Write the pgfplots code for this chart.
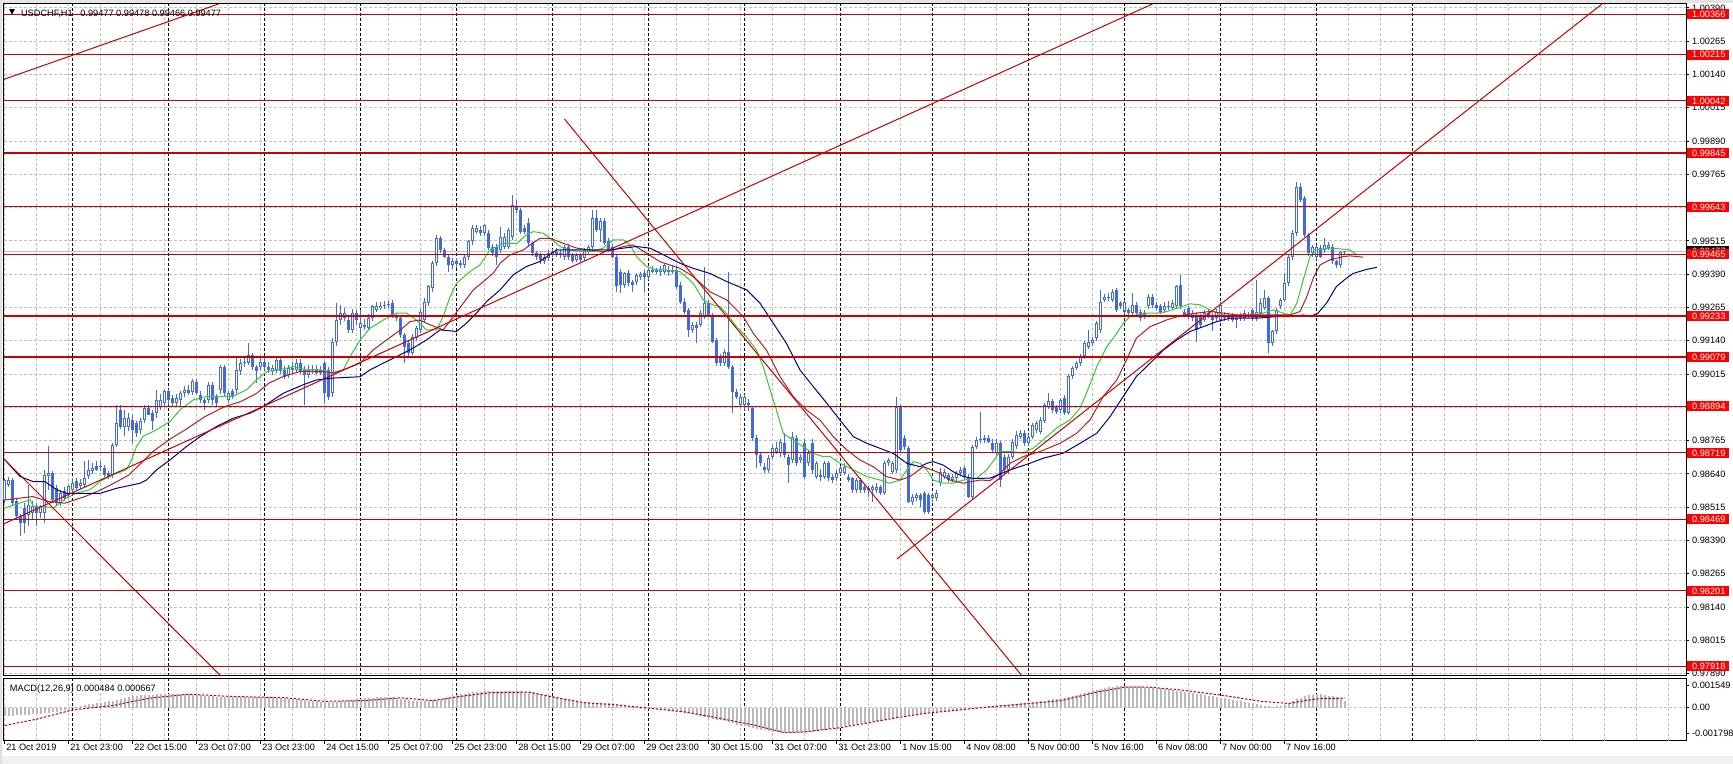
\documentclass[border=0pt]{standalone}
\usepackage{pgfplots}
\pgfplotsset{compat=1.18}
\usepackage{pgfplotstable}
\usepackage{fontspec}
\setmainfont{Liberation Sans}
\newfontfamily\symfont{DejaVu Sans}
\newcommand\lbl{\fontsize{4.6pt}{5pt}\selectfont}
\definecolor{cand}{RGB}{65,105,225}
\definecolor{magreen}{RGB}{50,205,50}
\definecolor{mared}{RGB}{178,34,34}
\definecolor{mablue}{RGB}{0,0,139}
\definecolor{lvl}{RGB}{200,0,0}
\definecolor{lvlbox}{RGB}{255,0,0}
\definecolor{trend}{RGB}{200,0,0}
\definecolor{gridc}{RGB}{192,192,192}
\definecolor{histc}{RGB}{185,185,185}
\definecolor{sigc}{RGB}{190,0,0}
\definecolor{bidc}{RGB}{192,192,192}

\pgfplotstableread{
o h l c
0.98543 0.98625 0.98531 0.98618
0.98600 0.98630 0.98590 0.98618
0.98618 0.98625 0.98525 0.98531
0.98537 0.98545 0.98468 0.98481
0.98481 0.98490 0.98406 0.98456
0.98512 0.98531 0.98418 0.98456
0.98487 0.98600 0.98443 0.98525
0.98493 0.98540 0.98470 0.98518
0.98518 0.98530 0.98443 0.98493
0.98493 0.98525 0.98475 0.98518
0.98493 0.98656 0.98456 0.98637
0.98631 0.98743 0.98581 0.98643
0.98643 0.98650 0.98530 0.98543
0.98587 0.98600 0.98520 0.98531
0.98531 0.98580 0.98520 0.98568
0.98575 0.98590 0.98540 0.98550
0.98562 0.98600 0.98550 0.98593
0.98581 0.98625 0.98570 0.98606
0.98612 0.98625 0.98580 0.98587
0.98593 0.98620 0.98585 0.98606
0.98600 0.98687 0.98590 0.98625
0.98631 0.98693 0.98620 0.98656
0.98650 0.98680 0.98640 0.98662
0.98668 0.98690 0.98650 0.98656
0.98668 0.98690 0.98650 0.98665
0.98662 0.98675 0.98630 0.98637
0.98643 0.98650 0.98620 0.98631
0.98637 0.98756 0.98625 0.98750
0.98750 0.98900 0.98740 0.98831
0.98880 0.98900 0.98810 0.98818
0.98818 0.98880 0.98781 0.98850
0.98818 0.98870 0.98800 0.98850
0.98843 0.98860 0.98756 0.98806
0.98831 0.98840 0.98780 0.98793
0.98806 0.98850 0.98790 0.98837
0.98843 0.98900 0.98830 0.98887
0.98887 0.98900 0.98860 0.98862
0.98868 0.98880 0.98806 0.98837
0.98868 0.98955 0.98850 0.98918
0.98893 0.98940 0.98880 0.98918
0.98906 0.98955 0.98890 0.98950
0.98950 0.98960 0.98900 0.98918
0.98925 0.98935 0.98890 0.98906
0.98906 0.98940 0.98895 0.98925
0.98918 0.98950 0.98890 0.98943
0.98943 0.98970 0.98930 0.98956
0.98956 0.98975 0.98935 0.98943
0.98946 0.98995 0.98935 0.98990
0.98985 0.98995 0.98940 0.98943
0.98937 0.98950 0.98905 0.98918
0.98918 0.98925 0.98880 0.98906
0.98918 0.98985 0.98905 0.98975
0.98975 0.98985 0.98900 0.98918
0.98930 0.98940 0.98890 0.98905
0.98955 0.99050 0.98940 0.99043
0.99043 0.99050 0.98930 0.98943
0.98918 0.98950 0.98905 0.98943
0.98950 0.98960 0.98920 0.98930
0.98955 0.99080 0.98940 0.99030
0.99025 0.99070 0.99010 0.99056
0.99056 0.99080 0.99040 0.99060
0.99056 0.99130 0.99050 0.99087
0.99087 0.99095 0.99030 0.99043
0.99043 0.99050 0.98980 0.99025
0.99043 0.99075 0.99030 0.99062
0.99062 0.99080 0.99030 0.99043
0.99043 0.99060 0.99020 0.99030
0.99025 0.99050 0.99010 0.99037
0.99030 0.99080 0.99020 0.99068
0.99068 0.99080 0.99015 0.99025
0.99030 0.99045 0.98995 0.99005
0.99012 0.99050 0.99000 0.99037
0.99037 0.99060 0.99020 0.99030
0.99030 0.99070 0.99020 0.99056
0.99056 0.99070 0.99015 0.99025
0.99030 0.99045 0.98900 0.99012
0.99012 0.99050 0.99000 0.99030
0.99030 0.99050 0.99015 0.99035
0.99035 0.99050 0.99010 0.99018
0.99018 0.99045 0.99010 0.99030
0.99056 0.99065 0.98905 0.98943
0.99030 0.99040 0.98918 0.98930
0.98943 0.99150 0.98930 0.99137
0.99137 0.99281 0.99120 0.99218
0.99218 0.99275 0.99200 0.99244
0.99225 0.99262 0.99215 0.99244
0.99218 0.99230 0.99170 0.99181
0.99181 0.99260 0.99170 0.99244
0.99244 0.99255 0.99200 0.99218
0.99187 0.99256 0.99143 0.99206
0.99200 0.99220 0.99180 0.99193
0.99187 0.99240 0.99180 0.99225
0.99225 0.99275 0.99215 0.99269
0.99256 0.99285 0.99250 0.99269
0.99262 0.99285 0.99255 0.99272
0.99269 0.99290 0.99260 0.99275
0.99275 0.99290 0.99265 0.99278
0.99281 0.99294 0.99225 0.99231
0.99231 0.99245 0.99215 0.99225
0.99225 0.99235 0.99150 0.99162
0.99162 0.99170 0.99056 0.99118
0.99131 0.99140 0.99080 0.99093
0.99093 0.99165 0.99085 0.99156
0.99150 0.99195 0.99140 0.99187
0.99181 0.99260 0.99170 0.99250
0.99218 0.99300 0.99210 0.99287
0.99281 0.99350 0.99270 0.99344
0.99338 0.99440 0.99325 0.99431
0.99431 0.99538 0.99420 0.99525
0.99525 0.99535 0.99470 0.99481
0.99481 0.99490 0.99450 0.99456
0.99456 0.99465 0.99400 0.99425
0.99425 0.99450 0.99410 0.99438
0.99438 0.99450 0.99415 0.99428
0.99431 0.99445 0.99415 0.99425
0.99425 0.99465 0.99415 0.99456
0.99456 0.99520 0.99445 0.99513
0.99513 0.99575 0.99500 0.99563
0.99550 0.99575 0.99540 0.99563
0.99557 0.99570 0.99535 0.99544
0.99544 0.99580 0.99535 0.99575
0.99544 0.99555 0.99480 0.99488
0.99494 0.99505 0.99460 0.99469
0.99494 0.99505 0.99425 0.99456
0.99481 0.99569 0.99470 0.99531
0.99494 0.99545 0.99485 0.99531
0.99494 0.99565 0.99485 0.99557
0.99531 0.99688 0.99520 0.99650
0.99644 0.99669 0.99620 0.99632
0.99632 0.99640 0.99540 0.99550
0.99563 0.99575 0.99540 0.99550
0.99582 0.99600 0.99495 0.99506
0.99506 0.99515 0.99460 0.99469
0.99469 0.99478 0.99445 0.99456
0.99462 0.99470 0.99430 0.99444
0.99438 0.99465 0.99430 0.99456
0.99450 0.99480 0.99440 0.99469
0.99462 0.99485 0.99455 0.99475
0.99475 0.99490 0.99455 0.99462
0.99462 0.99480 0.99450 0.99470
0.99456 0.99500 0.99445 0.99494
0.99494 0.99505 0.99445 0.99456
0.99462 0.99470 0.99431 0.99438
0.99444 0.99470 0.99435 0.99462
0.99462 0.99470 0.99435 0.99444
0.99450 0.99490 0.99440 0.99481
0.99475 0.99500 0.99465 0.99494
0.99494 0.99632 0.99485 0.99600
0.99600 0.99632 0.99550 0.99557
0.99557 0.99600 0.99510 0.99590
0.99590 0.99600 0.99500 0.99506
0.99513 0.99525 0.99475 0.99481
0.99494 0.99505 0.99450 0.99456
0.99456 0.99465 0.99325 0.99344
0.99400 0.99410 0.99319 0.99350
0.99350 0.99400 0.99340 0.99394
0.99394 0.99405 0.99345 0.99356
0.99362 0.99370 0.99325 0.99350
0.99362 0.99395 0.99350 0.99387
0.99381 0.99400 0.99370 0.99390
0.99394 0.99405 0.99325 0.99381
0.99381 0.99415 0.99370 0.99406
0.99406 0.99420 0.99395 0.99400
0.99400 0.99415 0.99390 0.99405
0.99400 0.99420 0.99385 0.99410
0.99400 0.99430 0.99390 0.99425
0.99400 0.99420 0.99385 0.99406
0.99406 0.99425 0.99390 0.99400
0.99406 0.99420 0.99335 0.99343
0.99349 0.99360 0.99280 0.99287
0.99287 0.99300 0.99240 0.99249
0.99256 0.99265 0.99155 0.99181
0.99181 0.99210 0.99170 0.99199
0.99199 0.99210 0.99130 0.99187
0.99199 0.99255 0.99190 0.99243
0.99231 0.99418 0.99220 0.99281
0.99281 0.99295 0.99230 0.99237
0.99237 0.99245 0.99130 0.99137
0.99143 0.99150 0.99045 0.99055
0.99080 0.99090 0.99045 0.99055
0.99055 0.99110 0.99045 0.99099
0.99099 0.99400 0.99035 0.99043
0.99043 0.99050 0.98868 0.98949
0.98949 0.98960 0.98920 0.98930
0.98899 0.98940 0.98890 0.98930
0.98899 0.98940 0.98880 0.98930
0.98905 0.98920 0.98875 0.98900
0.98886 0.98895 0.98765 0.98774
0.98774 0.98785 0.98661 0.98711
0.98711 0.98720 0.98670 0.98680
0.98667 0.98680 0.98645 0.98655
0.98655 0.98710 0.98645 0.98699
0.98705 0.98750 0.98695 0.98736
0.98724 0.98761 0.98715 0.98736
0.98717 0.98770 0.98705 0.98761
0.98755 0.98792 0.98700 0.98711
0.98705 0.98715 0.98605 0.98673
0.98692 0.98799 0.98680 0.98780
0.98774 0.98785 0.98670 0.98680
0.98692 0.98715 0.98680 0.98705
0.98755 0.98770 0.98620 0.98630
0.98680 0.98730 0.98670 0.98717
0.98755 0.98770 0.98640 0.98655
0.98630 0.98690 0.98620 0.98680
0.98635 0.98660 0.98615 0.98630
0.98630 0.98690 0.98620 0.98680
0.98680 0.98690 0.98615 0.98623
0.98630 0.98640 0.98605 0.98617
0.98623 0.98655 0.98615 0.98642
0.98642 0.98670 0.98635 0.98661
0.98642 0.98680 0.98635 0.98667
0.98630 0.98640 0.98610 0.98617
0.98623 0.98630 0.98570 0.98580
0.98580 0.98625 0.98570 0.98617
0.98617 0.98625 0.98570 0.98580
0.98592 0.98600 0.98570 0.98580
0.98586 0.98595 0.98555 0.98580
0.98580 0.98600 0.98536 0.98592
0.98580 0.98605 0.98570 0.98592
0.98592 0.98600 0.98560 0.98567
0.98567 0.98690 0.98560 0.98680
0.98680 0.98700 0.98670 0.98692
0.98648 0.98690 0.98640 0.98680
0.98655 0.98930 0.98645 0.98893
0.98893 0.98899 0.98720 0.98730
0.98774 0.98785 0.98730 0.98742
0.98736 0.98745 0.98530 0.98536
0.98536 0.98565 0.98525 0.98555
0.98548 0.98570 0.98540 0.98561
0.98561 0.98570 0.98517 0.98542
0.98567 0.98575 0.98490 0.98498
0.98561 0.98570 0.98490 0.98498
0.98548 0.98570 0.98535 0.98561
0.98548 0.98580 0.98540 0.98567
0.98605 0.98661 0.98595 0.98648
0.98630 0.98660 0.98620 0.98648
0.98636 0.98645 0.98610 0.98617
0.98617 0.98640 0.98610 0.98630
0.98623 0.98650 0.98615 0.98642
0.98642 0.98665 0.98635 0.98655
0.98661 0.98670 0.98620 0.98630
0.98630 0.98640 0.98550 0.98555
0.98555 0.98750 0.98545 0.98742
0.98742 0.98780 0.98735 0.98767
0.98767 0.98874 0.98755 0.98770
0.98767 0.98785 0.98755 0.98774
0.98774 0.98785 0.98755 0.98761
0.98755 0.98770 0.98720 0.98730
0.98718 0.98770 0.98710 0.98755
0.98755 0.98765 0.98592 0.98618
0.98705 0.98715 0.98640 0.98655
0.98655 0.98715 0.98640 0.98705
0.98705 0.98770 0.98695 0.98761
0.98743 0.98800 0.98735 0.98787
0.98780 0.98805 0.98770 0.98793
0.98793 0.98805 0.98745 0.98755
0.98755 0.98790 0.98745 0.98780
0.98780 0.98830 0.98770 0.98824
0.98805 0.98840 0.98795 0.98830
0.98799 0.98855 0.98790 0.98843
0.98837 0.98905 0.98830 0.98899
0.98893 0.98943 0.98885 0.98912
0.98912 0.98920 0.98870 0.98880
0.98893 0.98900 0.98865 0.98874
0.98880 0.98925 0.98870 0.98918
0.98924 0.98935 0.98860 0.98868
0.98868 0.99015 0.98860 0.99006
0.99006 0.99045 0.98995 0.99037
0.99037 0.99065 0.99030 0.99056
0.99056 0.99090 0.99045 0.99081
0.99081 0.99140 0.99070 0.99131
0.99118 0.99181 0.99110 0.99137
0.99131 0.99155 0.99120 0.99143
0.99150 0.99215 0.99140 0.99206
0.99181 0.99331 0.99170 0.99287
0.99294 0.99315 0.99285 0.99306
0.99306 0.99320 0.99290 0.99300
0.99294 0.99335 0.99285 0.99325
0.99331 0.99340 0.99250 0.99256
0.99281 0.99290 0.99260 0.99269
0.99250 0.99295 0.99240 0.99287
0.99256 0.99265 0.99235 0.99244
0.99244 0.99319 0.99235 0.99275
0.99275 0.99285 0.99235 0.99244
0.99250 0.99260 0.99215 0.99225
0.99244 0.99255 0.99220 0.99231
0.99269 0.99315 0.99260 0.99306
0.99306 0.99315 0.99265 0.99275
0.99275 0.99285 0.99255 0.99262
0.99269 0.99280 0.99240 0.99250
0.99256 0.99285 0.99245 0.99269
0.99269 0.99290 0.99255 0.99272
0.99262 0.99295 0.99255 0.99281
0.99269 0.99350 0.99260 0.99344
0.99350 0.99387 0.99260 0.99269
0.99250 0.99260 0.99230 0.99237
0.99262 0.99270 0.99220 0.99231
0.99225 0.99255 0.99215 0.99244
0.99237 0.99250 0.99137 0.99181
0.99231 0.99240 0.99190 0.99200
0.99218 0.99255 0.99210 0.99244
0.99244 0.99260 0.99225 0.99231
0.99237 0.99245 0.99175 0.99218
0.99225 0.99260 0.99215 0.99250
0.99218 0.99285 0.99210 0.99275
0.99231 0.99250 0.99215 0.99225
0.99225 0.99245 0.99215 0.99235
0.99231 0.99245 0.99210 0.99218
0.99225 0.99240 0.99187 0.99218
0.99225 0.99245 0.99215 0.99231
0.99225 0.99255 0.99215 0.99244
0.99237 0.99250 0.99225 0.99231
0.99256 0.99265 0.99215 0.99225
0.99225 0.99369 0.99215 0.99250
0.99244 0.99300 0.99235 0.99281
0.99262 0.99331 0.99255 0.99300
0.99300 0.99310 0.99093 0.99131
0.99131 0.99180 0.99120 0.99175
0.99175 0.99265 0.99165 0.99256
0.99269 0.99300 0.99260 0.99294
0.99294 0.99394 0.99285 0.99356
0.99356 0.99465 0.99345 0.99456
0.99456 0.99557 0.99445 0.99544
0.99544 0.99738 0.99535 0.99719
0.99719 0.99732 0.99660 0.99669
0.99675 0.99685 0.99530 0.99538
0.99538 0.99545 0.99460 0.99469
0.99469 0.99500 0.99455 0.99494
0.99456 0.99500 0.99445 0.99494
0.99488 0.99500 0.99450 0.99456
0.99481 0.99525 0.99470 0.99500
0.99488 0.99510 0.99480 0.99500
0.99494 0.99505 0.99430 0.99438
0.99438 0.99445 0.99415 0.99425
0.99425 0.99478 0.99415 0.99475
0.99477 0.99478 0.99466 0.99477
}\ohlc
\pgfplotstablecreatecol[create col/expr={\pgfplotstablerow}]{i}{\ohlc}

\pgfplotstableread{
m
-0.00060
-0.00058
-0.00055
-0.00053
-0.00050
-0.00050
-0.00048
-0.00045
-0.00043
-0.00042
-0.00040
-0.00035
-0.00032
-0.00028
-0.00022
-0.00015
-0.00008
0.00002
0.00008
0.00014
0.00020
0.00024
0.00028
0.00031
0.00035
0.00038
0.00044
0.00050
0.00056
0.00062
0.00068
0.00074
0.00080
0.00083
0.00086
0.00088
0.00090
0.00091
0.00093
0.00094
0.00095
0.00096
0.00095
0.00095
0.00095
0.00094
0.00093
0.00091
0.00090
0.00088
0.00085
0.00083
0.00080
0.00078
0.00077
0.00076
0.00075
0.00075
0.00076
0.00075
0.00075
0.00077
0.00078
0.00078
0.00078
0.00076
0.00074
0.00072
0.00070
0.00068
0.00065
0.00062
0.00060
0.00058
0.00055
0.00052
0.00050
0.00047
0.00044
0.00042
0.00040
0.00039
0.00040
0.00042
0.00045
0.00049
0.00053
0.00057
0.00060
0.00063
0.00066
0.00068
0.00070
0.00072
0.00074
0.00075
0.00075
0.00073
0.00069
0.00064
0.00060
0.00055
0.00050
0.00047
0.00045
0.00046
0.00048
0.00051
0.00055
0.00063
0.00071
0.00078
0.00085
0.00090
0.00095
0.00100
0.00105
0.00108
0.00111
0.00113
0.00115
0.00116
0.00118
0.00119
0.00120
0.00120
0.00119
0.00119
0.00118
0.00116
0.00114
0.00112
0.00110
0.00104
0.00097
0.00091
0.00085
0.00079
0.00073
0.00066
0.00060
0.00055
0.00050
0.00045
0.00040
0.00039
0.00037
0.00036
0.00035
0.00034
0.00033
0.00031
0.00030
0.00025
0.00020
0.00015
0.00010
0.00006
0.00002
-0.00002
-0.00005
-0.00008
-0.00010
-0.00012
-0.00015
-0.00018
-0.00020
-0.00022
-0.00025
-0.00030
-0.00035
-0.00040
-0.00045
-0.00051
-0.00058
-0.00064
-0.00070
-0.00076
-0.00083
-0.00089
-0.00095
-0.00103
-0.00110
-0.00118
-0.00125
-0.00131
-0.00138
-0.00144
-0.00150
-0.00155
-0.00160
-0.00165
-0.00170
-0.00172
-0.00175
-0.00177
-0.00178
-0.00180
-0.00179
-0.00177
-0.00175
-0.00172
-0.00168
-0.00164
-0.00160
-0.00155
-0.00150
-0.00145
-0.00140
-0.00135
-0.00130
-0.00125
-0.00120
-0.00115
-0.00110
-0.00105
-0.00100
-0.00095
-0.00090
-0.00085
-0.00080
-0.00075
-0.00070
-0.00065
-0.00060
-0.00056
-0.00052
-0.00048
-0.00045
-0.00042
-0.00040
-0.00038
-0.00035
-0.00031
-0.00027
-0.00024
-0.00020
-0.00017
-0.00014
-0.00012
-0.00010
-0.00006
-0.00002
0.00002
0.00005
0.00008
0.00010
0.00013
0.00015
0.00017
0.00020
0.00022
0.00025
0.00027
0.00030
0.00032
0.00035
0.00038
0.00042
0.00046
0.00050
0.00054
0.00058
0.00061
0.00065
0.00071
0.00078
0.00084
0.00090
0.00098
0.00105
0.00113
0.00120
0.00126
0.00133
0.00139
0.00145
0.00148
0.00151
0.00153
0.00155
0.00155
0.00154
0.00152
0.00150
0.00148
0.00145
0.00143
0.00140
0.00136
0.00133
0.00129
0.00125
0.00121
0.00118
0.00114
0.00110
0.00105
0.00100
0.00095
0.00090
0.00085
0.00080
0.00075
0.00070
0.00065
0.00060
0.00055
0.00050
0.00045
0.00040
0.00035
0.00030
0.00025
0.00020
0.00015
0.00010
0.00008
0.00010
0.00015
0.00020
0.00030
0.00045
0.00060
0.00070
0.00080
0.00088
0.00092
0.00095
0.00093
0.00090
0.00085
0.00080
0.00072
0.00062
0.00048
}\macd
\pgfplotstablecreatecol[create col/expr={\pgfplotstablerow}]{i}{\macd}

\begin{document}
\begin{tikzpicture}
\useasboundingbox (0,0) rectangle (866.5pt,382pt);
\fill[white] (0,0) rectangle (866.5pt,382pt);
\fill[black!6] (0,0) rectangle (866.5pt,4pt);
\fill[black!12] (0,0) rectangle (1pt,382pt);
\fill[black!10] (0,380.6pt) rectangle (866.5pt,382pt);
% current price label (lies under the level labels)
\node[fill=black, text=white, font=\lbl, anchor=west, inner xsep=2.5pt, inner ysep=0.8pt, text height=3.4pt, text depth=0pt, text width=16pt, align=left] at (843.35pt,256.5pt) {0.99477};

\begin{axis}[
  at={(2pt,44pt)}, anchor=south west,
  width=841pt, height=336pt, scale only axis,
  xmin=-0.225, xmax=420.3, ymin=0.97881, ymax=1.00405,
  clip=false, scaled ticks=false,
  axis line style={black, line width=0.5pt},
  xtick={0,8,...,416}, xticklabels={}, x tick style={draw=none},
  xmajorgrids, ymajorgrids,
  major grid style={draw=gridc, line width=0.5pt, dash pattern=on 1.5pt off 1pt},
  ytick={0.97890,0.98015,0.98140,0.98265,0.98390,0.98515,0.98640,0.98765,0.98890,0.99015,0.99140,0.99265,0.99390,0.99515,0.99640,0.99765,0.99890,1.00015,1.00140,1.00265,1.00390},
  yticklabels={0.97890,0.98015,0.98140,0.98265,0.98390,0.98515,0.98640,0.98765,0.98890,0.99015,0.99140,0.99265,0.99390,0.99515,0.99640,0.99765,0.99890,1.00015,1.00140,1.00265,1.00390},
  ytick pos=right, yticklabel pos=right,
  tick align=outside, major tick length=1.5pt,
  y tick style={black, line width=0.5pt},
  y tick label style={font=\lbl, text=black, anchor=west, inner sep=0pt, xshift=1.35pt},
  extra y ticks={1.00366,1.00215,1.00042,0.99845,0.99643,0.99465,0.99233,0.99079,0.98894,0.98719,0.98469,0.98201,0.97918},
  extra y tick labels={1.00366,1.00215,1.00042,0.99845,0.99643,0.99465,0.99233,0.99079,0.98894,0.98719,0.98469,0.98201,0.97918},
  extra y tick style={grid=none, major tick length=0pt,
    y tick label style={fill=lvlbox, text=white, inner xsep=2.5pt, inner ysep=0.8pt,
      text height=3.4pt, text depth=0pt, text width=16pt, align=left, xshift=-1pt}},
]
% day separators
\pgfplotsinvokeforeach{17,41,65,89,113,137,161,185,209,232,256,280,304,328,352}{
  \addplot[black, line width=0.5pt, dash pattern=on 1.5pt off 1pt, forget plot] coordinates {(#1,0.97881) (#1,1.00405)};
}
% bid line
\addplot[bidc, line width=0.5pt, forget plot] coordinates {(-0.225,0.99477) (420.3,0.99477)};

% wicks
\addplot[draw=none, mark=none, forget plot,
  error bars/.cd, y dir=minus, y explicit, error mark=none,
  error bar style={draw=cand, line width=0.5pt}]
  table[x=i, y=h, y error expr={\thisrow{h}-\thisrow{l}}] {\ohlc};
% bodies
\addplot[draw=none, mark=none, forget plot,
  error bars/.cd, y dir=minus, y explicit, error mark=none,
  error bar style={draw=cand, line width=1.5pt}]
  table[x=i, y expr={max(\thisrow{o},\thisrow{c})}, y error expr={max(abs(\thisrow{o}-\thisrow{c}),0.00003)}] {\ohlc};
% hollow interior of rising candles
\addplot[draw=none, mark=none, forget plot,
  error bars/.cd, y dir=minus, y explicit, error mark=none,
  error bar style={draw=white, line width=0.5pt}]
  table[x=i, y expr={\thisrow{c}>\thisrow{o} ? \thisrow{c}-0.0000376 : nan}, y error expr={max(\thisrow{c}-\thisrow{o}-0.0000752,0)}] {\ohlc};

% moving averages
\addplot[magreen, line width=0.5pt] coordinates {(0,0.98512) (3.8,0.98531) (6.3,0.98543) (7.1,0.98518) (9.6,0.98518) (12.1,0.98512) (13.8,0.98531) (15.4,0.98550) (17.9,0.98568) (21.3,0.98581) (23.8,0.98612) (27.1,0.98637) (30.4,0.98656) (31.7,0.98693) (32.9,0.98743) (34.6,0.98781) (37.9,0.98806) (41.3,0.98837) (43.8,0.98881) (47.1,0.98918) (50.4,0.98931) (53.8,0.98931) (57.1,0.98931) (60.4,0.98956) (62.9,0.98993) (65.5,0.99025) (68.8,0.99031) (72.1,0.99043) (75.4,0.99031) (78.8,0.99031) (82.1,0.99018) (84.6,0.99031) (86.3,0.99081) (88.8,0.99143) (91.3,0.99187) (94.6,0.99218) (97.9,0.99244) (100.4,0.99244) (102.9,0.99218) (105.4,0.99181) (107.9,0.99181) (109.6,0.99231) (111.3,0.99306) (112.9,0.99356) (116.3,0.99400) (118.8,0.99425) (121.3,0.99481) (124.6,0.99506) (128.0,0.99506) (130.4,0.99538) (132.1,0.99550) (134.6,0.99544) (136.3,0.99525) (138.8,0.99494) (141.2,0.99481) (144.6,0.99475) (147.1,0.99475) (149.6,0.99488) (152.1,0.99519) (154.6,0.99519) (156.3,0.99500) (157.9,0.99456) (160.4,0.99419) (162.9,0.99406) (165.4,0.99406) (168.8,0.99400) (172.1,0.99356) (174.6,0.99293) (177.1,0.99274) (178.8,0.99268) (180.4,0.99243) (182.9,0.99193) (185.4,0.99155) (187.9,0.99105) (189.6,0.99043) (191.3,0.98955) (192.9,0.98880) (194.6,0.98792) (197.1,0.98767) (199.6,0.98742) (202.1,0.98717) (204.6,0.98705) (206.3,0.98705) (208.8,0.98680) (212.1,0.98655) (215.5,0.98630) (218.8,0.98617) (221.3,0.98605) (223.8,0.98617) (225.5,0.98655) (227.1,0.98686) (228.8,0.98680) (230.5,0.98655) (232.1,0.98617) (234.6,0.98605) (237.1,0.98605) (239.6,0.98617) (242.9,0.98623) (245.5,0.98655) (248.8,0.98724) (251.3,0.98724) (254.6,0.98718) (257.1,0.98737) (259.6,0.98768) (262.9,0.98812) (266.3,0.98843) (268.8,0.98887) (270.4,0.98943) (273.0,0.99043) (275.5,0.99118) (278.0,0.99168) (279.6,0.99206) (281.3,0.99231) (284.6,0.99244) (288.0,0.99244) (290.5,0.99250) (293.0,0.99262) (296.3,0.99279) (298.8,0.99275) (301.3,0.99256) (304.6,0.99237) (308.0,0.99231) (311.3,0.99235) (314.6,0.99244) (317.1,0.99256) (319.6,0.99244) (321.3,0.99237) (323.0,0.99281) (324.6,0.99369) (326.3,0.99456) (327.9,0.99481) (331.3,0.99488) (334.6,0.99484) (336.3,0.99481) (338.0,0.99463)};
\addplot[mared, line width=0.5pt] coordinates {(0,0.98542) (7,0.98555) (11,0.98536) (15,0.98530) (20,0.98555) (24,0.98580) (28,0.98611) (31,0.98636) (34,0.98680) (37,0.98724) (41,0.98768) (45,0.98805) (50,0.98855) (55,0.98893) (59,0.98912) (63,0.98943) (66,0.98981) (69.6,0.99006) (73.8,0.99025) (78.8,0.99025) (82.1,0.99020) (84.6,0.99031) (88.8,0.99056) (92.1,0.99106) (95.4,0.99143) (98.9,0.99181) (101.3,0.99212) (103.7,0.99218) (106.3,0.99200) (109.6,0.99181) (112.1,0.99231) (114.6,0.99281) (117.1,0.99331) (119.6,0.99362) (122.1,0.99394) (123.8,0.99431) (126.3,0.99463) (129.6,0.99481) (131.3,0.99500) (133.8,0.99525) (136.3,0.99525) (139.6,0.99506) (143.0,0.99488) (146.3,0.99481) (149.6,0.99475) (152.1,0.99481) (154.6,0.99494) (157.1,0.99500) (160.4,0.99469) (163.8,0.99437) (168.8,0.99412) (172.1,0.99381) (176.3,0.99324) (180.5,0.99293) (184.6,0.99231) (187.1,0.99168) (190.4,0.99105) (193.8,0.99005) (197.1,0.98930) (200.4,0.98880) (203.8,0.98842) (207.1,0.98780) (210.5,0.98730) (213.8,0.98692) (217.1,0.98667) (220.4,0.98630) (223.8,0.98617) (226.3,0.98630) (229.6,0.98667) (233.0,0.98648) (236.3,0.98617) (239.6,0.98605) (243.8,0.98617) (246.3,0.98615) (248.8,0.98642) (251.3,0.98680) (254.6,0.98705) (258.8,0.98724) (263.8,0.98755) (268.0,0.98793) (271.3,0.98843) (274.6,0.98931) (278.0,0.98993) (280.4,0.99068) (282.9,0.99150) (286.3,0.99193) (290.4,0.99218) (294.6,0.99237) (298.0,0.99244) (301.3,0.99250) (304.6,0.99244) (308.0,0.99237) (313.0,0.99237) (318.0,0.99237) (321.3,0.99237) (323.8,0.99250) (325.5,0.99306) (327.1,0.99375) (328.8,0.99425) (331.3,0.99444) (334.6,0.99456) (336.3,0.99459) (339.6,0.99454)};
\addplot[mablue, line width=0.5pt] coordinates {(0,0.98693) (3.8,0.98630) (7.1,0.98611) (10.0,0.98611) (13.0,0.98580) (15.4,0.98567) (20.4,0.98567) (23.8,0.98567) (27.9,0.98586) (33.8,0.98605) (35.4,0.98617) (37.9,0.98655) (41.3,0.98693) (45.4,0.98743) (48.8,0.98780) (52.9,0.98818) (57.1,0.98849) (61.3,0.98868) (64.6,0.98893) (69.6,0.98943) (74.6,0.98975) (77.9,0.98993) (82.1,0.99000) (88.8,0.99005) (91.3,0.99031) (94.6,0.99056) (98.0,0.99081) (101.3,0.99106) (105.4,0.99143) (108.8,0.99181) (112.9,0.99175) (115.4,0.99206) (117.9,0.99244) (120.4,0.99287) (123.8,0.99331) (127.1,0.99388) (130.4,0.99419) (133.8,0.99438) (137.9,0.99481) (141.3,0.99481) (146.3,0.99481) (151.3,0.99481) (154.6,0.99488) (157.9,0.99494) (161.3,0.99488) (164.6,0.99463) (168.8,0.99431) (172.1,0.99412) (176.3,0.99393) (180.5,0.99362) (185.5,0.99331) (188.8,0.99281) (192.1,0.99206) (195.4,0.99130) (198.8,0.99030) (202.1,0.98968) (205.5,0.98905) (208.8,0.98842) (212.1,0.98780) (215.5,0.98755) (218.8,0.98736) (222.1,0.98717) (225.5,0.98680) (228.8,0.98667) (230.5,0.98680) (232.1,0.98686) (234.6,0.98673) (237.1,0.98648) (239.6,0.98630) (242.1,0.98623) (246.3,0.98624) (251.3,0.98655) (256.3,0.98680) (259.6,0.98699) (264.6,0.98718) (268.8,0.98755) (273.0,0.98793) (276.3,0.98855) (279.6,0.98931) (282.9,0.99006) (286.3,0.99056) (289.7,0.99106) (293.0,0.99143) (296.3,0.99175) (299.6,0.99193) (303.0,0.99212) (306.3,0.99225) (309.6,0.99225) (313.0,0.99225) (318.0,0.99231) (321.3,0.99231) (324.6,0.99237) (326.3,0.99231) (328.3,0.99244) (330.4,0.99281) (332.9,0.99344) (335.4,0.99375) (337.1,0.99393) (340.4,0.99408) (343.0,0.99416)};

% horizontal levels
\pgfplotsinvokeforeach{1.00366,1.00215,1.00042,0.99845,0.99643,0.99465,0.99233,0.99079,0.98894,0.98719,0.98469,0.98201,0.97918}{
  \addplot[lvl, line width=0.6pt, forget plot] coordinates {(-0.225,#1) (420.3,#1)};
}
% trend lines
\addplot[trend, line width=0.5pt] coordinates {(-0.225,1.00122) (53.4,1.00405)};
\addplot[trend, line width=0.5pt] coordinates {(-0.225,0.98453) (286.9,1.00405)};
\addplot[trend, line width=0.5pt] coordinates {(-0.225,0.98696) (54.0,0.97881)};
\addplot[trend, line width=0.5pt] coordinates {(139.9,0.99973) (254.3,0.97881)};
\addplot[trend, line width=0.5pt] coordinates {(223.0,0.98320) (399.3,1.00405)};
\end{axis}

\begin{axis}[
  at={(2pt,11.5pt)}, anchor=south west,
  width=841pt, height=31pt, scale only axis,
  xmin=-0.225, xmax=420.3, ymin=-0.002339, ymax=0.002020,
  clip=false, scaled ticks=false,
  axis line style={black, line width=0.5pt},
  xtick={0,16,...,320},
  xticklabels={21 Oct 2019,21 Oct 23:00,22 Oct 15:00,23 Oct 07:00,23 Oct 23:00,24 Oct 15:00,25 Oct 07:00,25 Oct 23:00,28 Oct 15:00,29 Oct 07:00,29 Oct 23:00,30 Oct 15:00,31 Oct 07:00,31 Oct 23:00,1 Nov 15:00,4 Nov 08:00,5 Nov 00:00,5 Nov 16:00,6 Nov 08:00,7 Nov 00:00,7 Nov 16:00},
  minor xtick={8,24,...,408},
  xmajorgrids, xminorgrids,
  major grid style={draw=gridc, line width=0.5pt, dash pattern=on 1.5pt off 1pt},
  minor grid style={draw=gridc, line width=0.5pt, dash pattern=on 1.5pt off 1pt},
  minor tick length=0pt,
  extra x ticks={336,352,368,384,400,416}, extra x tick labels={},
  extra x tick style={grid=major, major tick length=0pt},
  xtick pos=left, ytick pos=right, yticklabel pos=right,
  tick align=outside, major tick length=1.5pt,
  tick style={black, line width=0.5pt},
  x tick label style={font=\lbl, text=black, anchor=north west, inner sep=0pt, xshift=0.5pt},
  ytick={-0.001798,0.001549}, yticklabels={-0.001798,0.001549},
  y tick label style={font=\lbl, text=black, anchor=west, inner sep=0pt, xshift=1.35pt},
  extra y ticks={0}, extra y tick labels={0.00},
  extra y tick style={grid=major},
]
\pgfplotsinvokeforeach{17,41,65,89,113,137,161,185,209,232,256,280,304,328,352}{
  \addplot[black, line width=0.5pt, dash pattern=on 1.5pt off 1pt, forget plot] coordinates {(#1,-0.002339) (#1,0.002020)};
}
\addplot[ycomb, draw=histc, line width=1pt, mark=none] table[x=i, y=m] {\macd};
\addplot[sigc, line width=0.5pt, dash pattern=on 1.2pt off 0.8pt] coordinates {(0,-0.00125) (8,-0.00080) (17,-0.00015) (27,0.00015) (32,0.00045) (37,0.00070) (46,0.00095) (56,0.00080) (70,0.00070) (80,0.00045) (90,0.00050) (99,0.00070) (107,0.00050) (114,0.00080) (121,0.00105) (131,0.00110) (138,0.00070) (145,0.00035) (153,0.00020) (160,0.00000) (170,-0.00030) (176,-0.00060) (187,-0.00120) (195,-0.00175) (200,-0.00170) (209,-0.00140) (223,-0.00070) (230,-0.00040) (239,-0.00015) (244,0.00000) (254,0.00025) (264,0.00050) (273,0.00110) (280,0.00145) (286,0.00145) (294,0.00125) (305,0.00085) (314,0.00045) (321,0.00030) (325,0.00050) (329,0.00065) (335,0.00067)};
\end{axis}

\node[inner sep=0pt, font=\symfont\fontsize{3.9pt}{4pt}\selectfont] at (6pt,375.6pt) {▼};
\node[anchor=base west, inner sep=0pt, font=\lbl] at (10.35pt,373.65pt) {USDCHF,H1\hspace{3.85pt}0.99477 0.99478 0.99466 0.99477};
\node[anchor=base west, inner sep=0pt, font=\lbl] at (4.8pt,36pt) {MACD(12,26,9) 0.000484 0.000667};
\end{tikzpicture}
\end{document}
